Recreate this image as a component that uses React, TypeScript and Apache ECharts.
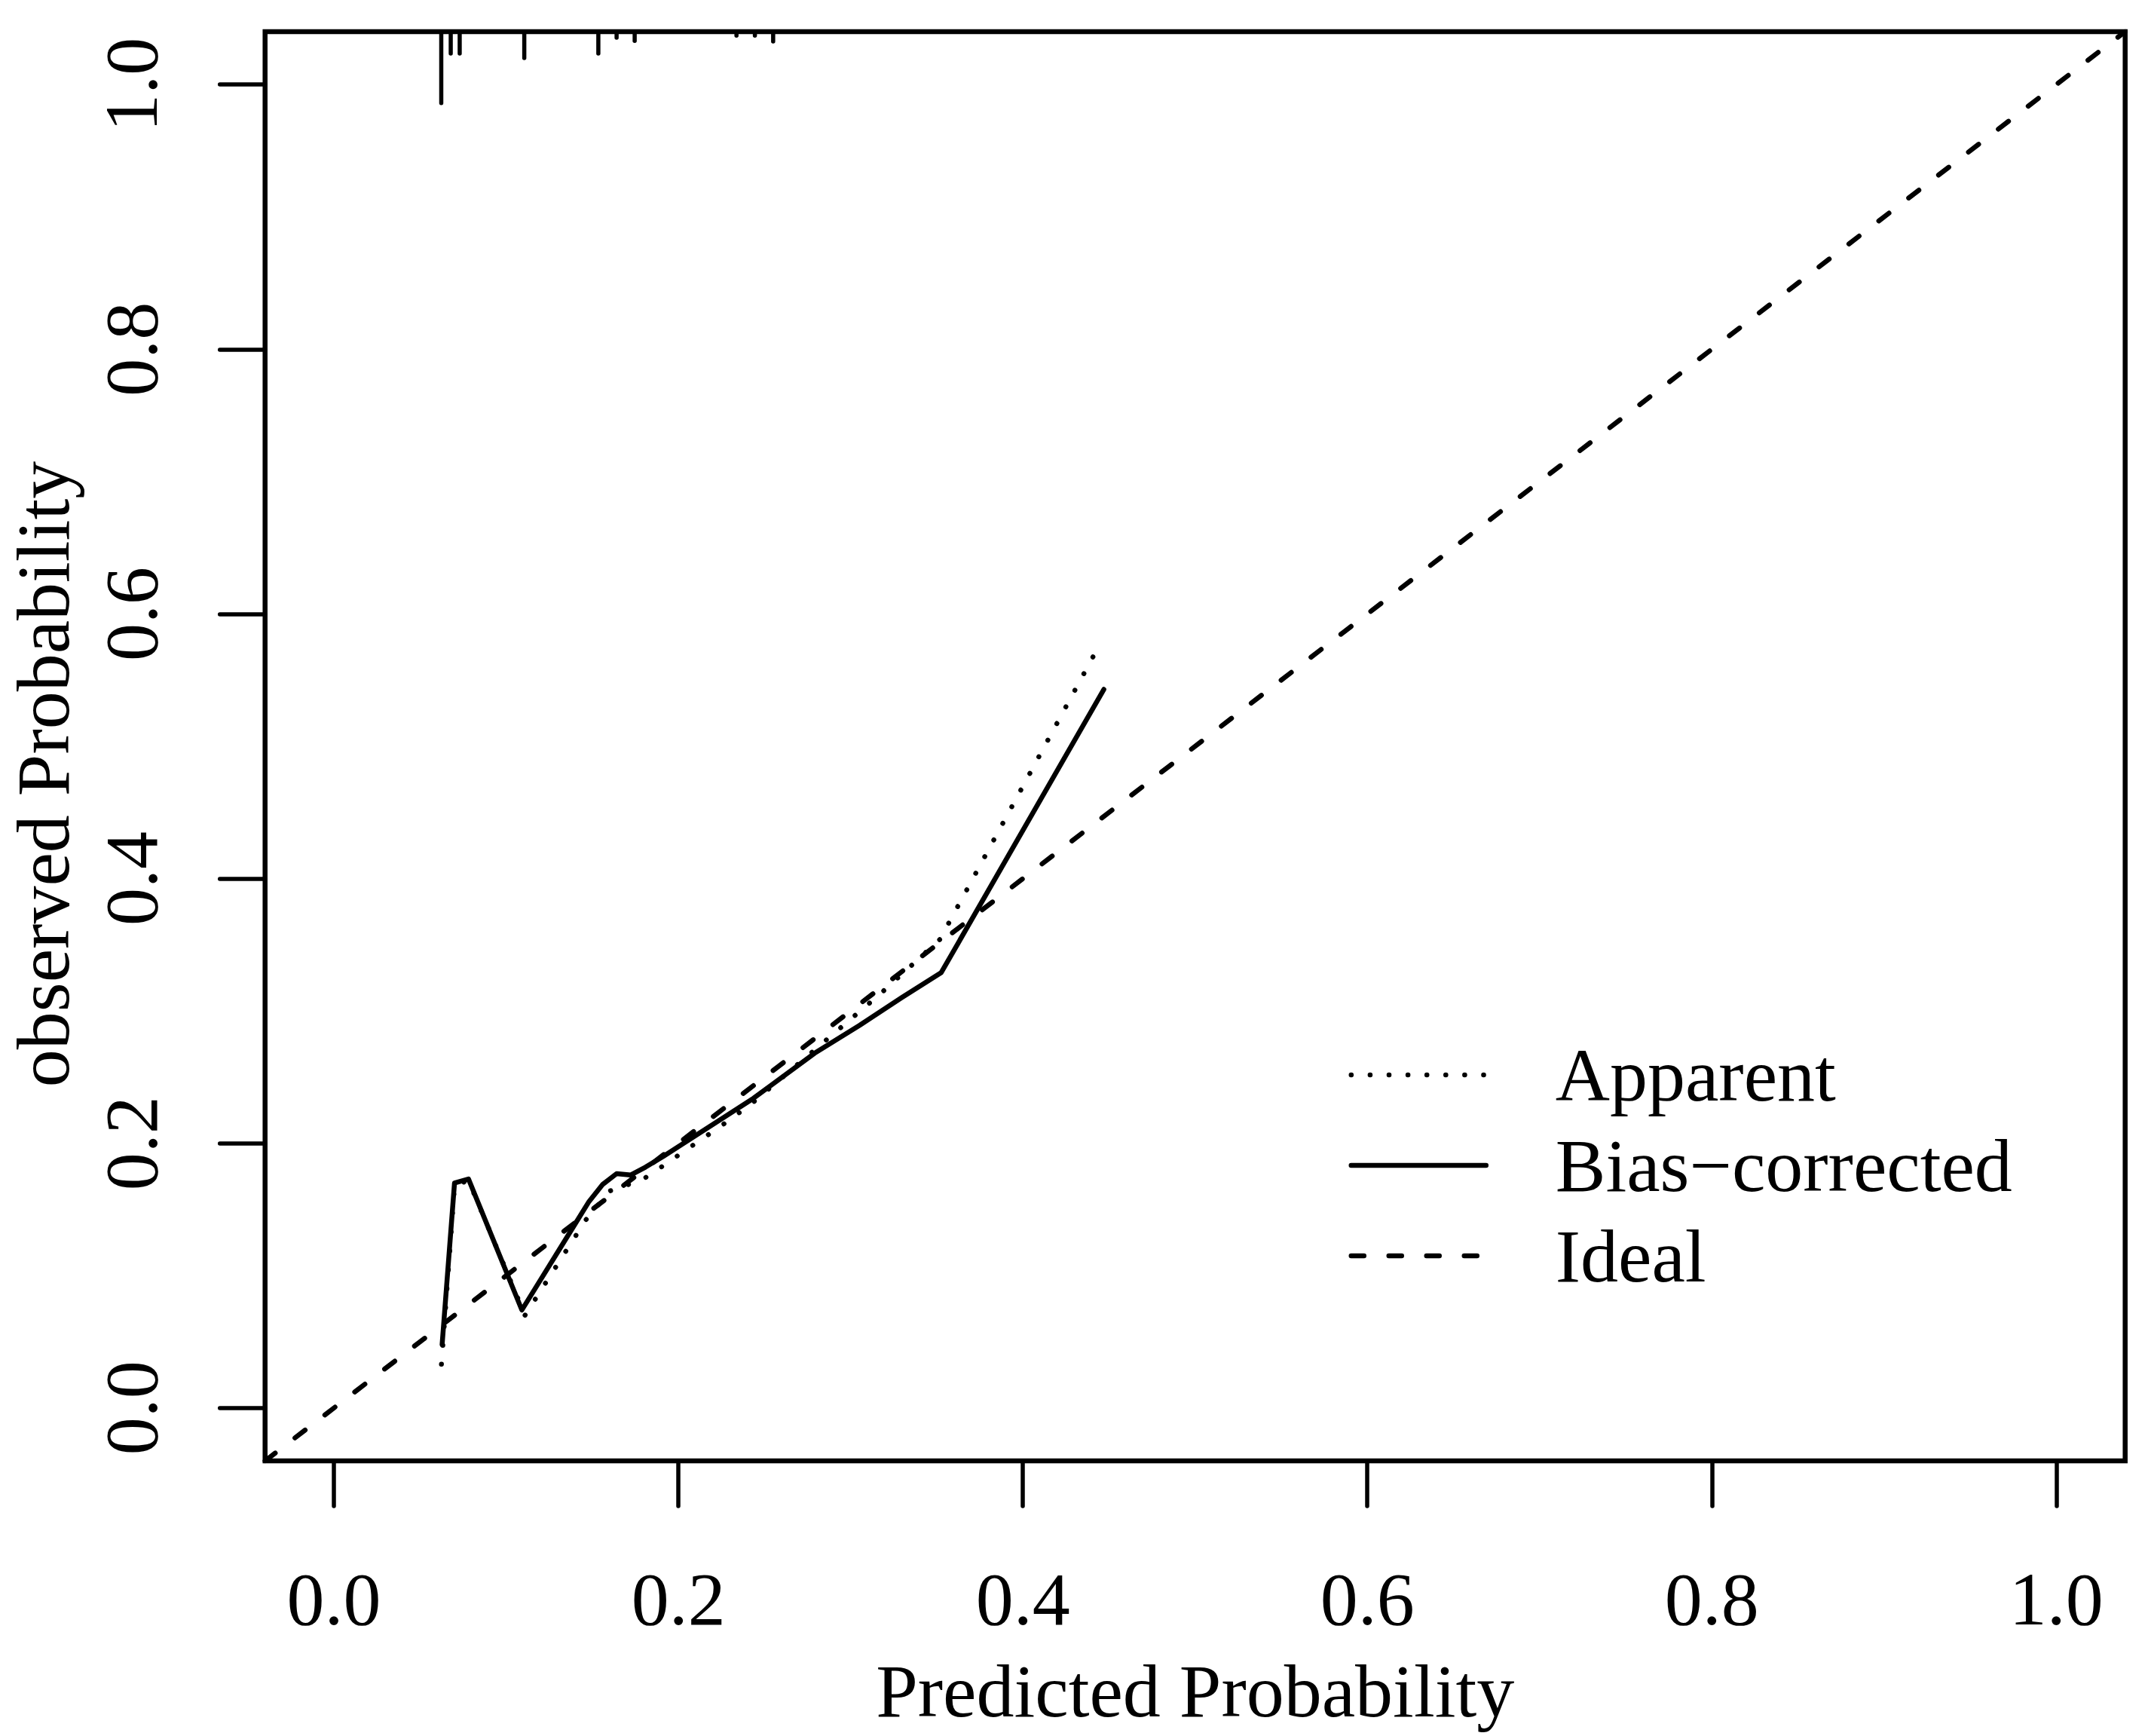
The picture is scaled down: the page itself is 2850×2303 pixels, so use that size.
import { useEffect, useRef } from "react";
import * as echarts from "echarts";

// calibration curve, values
const apparent: [number, number][] = [
  [0.0624, 0.033], [0.07, 0.168], [0.0781, 0.172], [0.1109, 0.07], [0.1462, 0.142],
  [0.1602, 0.164], [0.1692, 0.168], [0.1797, 0.173], [0.1889, 0.181], [0.2067, 0.197],
  [0.2247, 0.213], [0.2425, 0.23], [0.284, 0.276], [0.3173, 0.313], [0.3518, 0.354],
  [0.4442, 0.576],
];

const biasCorrected: [number, number][] = [
  [0.0628, 0.048], [0.07, 0.17], [0.0781, 0.173], [0.1091, 0.074], [0.1481, 0.156],
  [0.1561, 0.169], [0.1641, 0.177], [0.1722, 0.176], [0.1809, 0.182], [0.1911, 0.19],
  [0.2436, 0.234], [0.279, 0.268], [0.305, 0.289], [0.3296, 0.31], [0.3526, 0.329],
  [0.447, 0.543],
];

const ideal: [number, number][] = [[-0.04, -0.04], [1.04, 1.04]];

// rug of predicted probabilities along the top edge
const rugX = [0.0623, 0.0678, 0.073, 0.1105, 0.1535, 0.1641, 0.1746, 0.2337, 0.2444, 0.255];
const rugLen = [0.054, 0.0165, 0.0165, 0.02, 0.0165, 0.0046, 0.007, 0.003, 0.003, 0.0074];

const ticks = [0, 0.2, 0.4, 0.6, 0.8, 1.0];
const legendNames = ["Apparent", "Bias\u2212corrected", "Ideal"];

const AX_MIN = -0.04;
const AX_MAX = 1.04;
const FONT = "Liberation Serif";

export default function App() {
  const ref = useRef<HTMLDivElement>(null);

  useEffect(() => {
    document.body.style.margin = "0";
    if (!ref.current) return;
    const chart = echarts.init(ref.current, null, { renderer: "svg" });

    const axisCommon = {
      type: "value",
      min: AX_MIN,
      max: AX_MAX,
      splitLine: { show: false },
      axisLine: { show: false, onZero: false },
      axisTick: {
        show: true,
        inside: false,
        length: 60,
        customValues: ticks,
        lineStyle: { color: "#000", width: 5.5, cap: "round" },
      },
      nameMoveOverlap: false,
    };

    chart.setOption({
      animation: false,
      backgroundColor: "#fff",
      grid: {
        left: 351.7,
        top: 42,
        width: 2468,
        height: 1896,
        show: true,
        borderColor: "#000",
        borderWidth: 6.5,
        backgroundColor: "transparent",
        containLabel: false,
        outerBoundsMode: "none",
      },
      legend: {
        orient: "vertical",
        left: 1789.5,
        top: 1376,
        padding: 0,
        itemWidth: 179,
        itemHeight: 100,
        itemGap: 20,
        selectedMode: false,
        data: legendNames,
        itemStyle: { color: "transparent", borderWidth: 0, opacity: 0 },
        lineStyle: { width: 6.5 },
        textStyle: {
          fontFamily: FONT,
          fontSize: 100,
          color: "#000",
          padding: [0, 0, 0, 87],
        },
      },
      xAxis: {
        ...axisCommon,
        position: "bottom",
        name: "Predicted Probability",
        nameLocation: "middle",
        nameGap: 305,
        nameTextStyle: {
          fontFamily: FONT,
          fontSize: 100,
          color: "#000",
          align: "center",
          verticalAlign: "middle",
        },
        axisLabel: {
          customValues: ticks,
          margin: 183,
          fontFamily: FONT,
          fontSize: 100,
          color: "#000",
          verticalAlign: "middle",
          formatter: (v: number) => v.toFixed(1),
        },
      },
      yAxis: {
        ...axisCommon,
        position: "left",
        name: "observed Probability",
        nameLocation: "middle",
        nameGap: 294,
        nameTextStyle: {
          fontFamily: FONT,
          fontSize: 100,
          color: "#000",
          align: "center",
          verticalAlign: "middle",
          padding: [0, 74, 0, 0],
        },
        axisLabel: {
          customValues: ticks,
          margin: 177,
          rotate: 90,
          align: "center",
          verticalAlign: "middle",
          fontFamily: FONT,
          fontSize: 100,
          color: "#000",
          formatter: (v: number) => v.toFixed(1),
        },
      },
      series: [
        {
          name: legendNames[0],
          type: "line",
          data: apparent,
          symbol: "none",
          showSymbol: false,
          itemStyle: { color: "#000" },
          lineStyle: { color: "#000", width: 6.5, type: [0.1, 25], cap: "round", join: "round" },
          z: 3,
        },
        {
          name: legendNames[1],
          type: "line",
          data: biasCorrected,
          symbol: "none",
          showSymbol: false,
          itemStyle: { color: "#000" },
          lineStyle: { color: "#000", width: 6.5, type: "solid", cap: "round", join: "round" },
          z: 4,
        },
        {
          name: legendNames[2],
          type: "line",
          data: ideal,
          symbol: "none",
          showSymbol: false,
          itemStyle: { color: "#000" },
          lineStyle: { color: "#000", width: 6.5, type: [17, 33], cap: "round", join: "round" },
          z: 2,
        },
        {
          type: "custom",
          data: rugX.map((x, i) => [x, rugLen[i]]),
          z: 5,
          renderItem: (_params: any, api: any) => {
            const x = api.value(0);
            const len = api.value(1);
            const p0 = api.coord([x, AX_MAX]);
            const p1 = api.coord([x, AX_MAX - len]);
            return {
              type: "line",
              shape: { x1: p0[0], y1: p0[1], x2: p1[0], y2: p1[1] },
              style: { stroke: "#000", lineWidth: 5.5, lineCap: "round" },
            };
          },
        },
      ],
    });

    return () => chart.dispose();
  }, []);

  return <div ref={ref} style={{ width: 2850, height: 2303 }} />;
}
